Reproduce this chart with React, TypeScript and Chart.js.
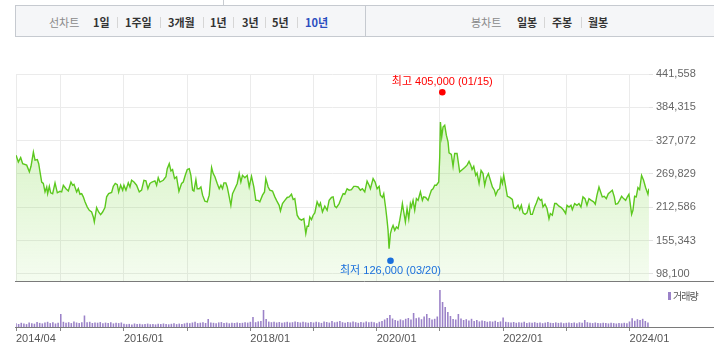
import React, { useEffect, useRef } from 'react';
import { Chart, registerables } from 'chart.js';

Chart.register(...registerables);

// ---- data (month index since 2014/01, fractional) ----
const priceMonths = [
  3.51, 3.95, 4.39, 4.77, 5.53, 6.04, 6.35, 6.8, 7.11, 7.55, 7.81, 8.06, 8.38, 8.69, 9.01, 9.33, 9.51, 9.83, 10.08, 10.46,
  10.91, 11.35, 11.85, 12.17, 12.49, 12.99, 13.44, 13.94, 14.26, 14.51, 15.02, 15.33, 15.65, 15.97, 16.28, 16.6, 17.04, 17.42, 17.86, 18.18,
  18.37, 18.81, 19.19, 19.57, 19.95, 20.39, 20.71, 21.09, 21.66, 21.98, 22.35, 22.73, 22.99, 23.37, 23.75, 24.0, 24.38, 24.82, 25.14, 25.45,
  25.9, 26.4, 26.91, 27.35, 27.79, 28.17, 28.55, 28.93, 29.31, 29.88, 30.2, 30.51, 30.83, 31.46, 31.97, 32.22, 32.6, 32.92, 33.23, 33.61,
  33.99, 34.44, 34.94, 35.26, 35.64, 36.02, 36.4, 36.71, 37.03, 37.28, 37.66, 37.91, 38.29, 38.61, 38.93, 39.37, 39.81, 40.19, 40.64, 40.95,
  41.27, 41.71, 42.09, 42.41, 42.72, 42.98, 43.35, 43.61, 43.99, 44.3, 44.62, 45.06, 45.51, 45.88, 46.2, 46.51, 46.96, 47.4, 47.78, 48.22,
  48.66, 49.04, 49.49, 49.8, 50.31, 50.69, 50.94, 51.38, 51.7, 52.21, 52.65, 52.97, 53.47, 53.72, 54.1, 54.55, 54.99, 55.37, 55.81, 56.13,
  56.44, 56.89, 57.27, 57.71, 58.15, 58.53, 58.78, 59.04, 59.29, 59.61, 59.92, 60.24, 60.68, 61.06, 61.31, 61.69, 62.14, 62.58, 62.96, 63.4,
  63.72, 64.03, 64.35, 64.86, 65.3, 65.62, 65.93, 66.37, 66.75, 67.2, 67.64, 68.02, 68.46, 68.9, 69.28, 69.73, 70.17, 70.55, 70.8, 71.31,
  71.69, 72.07, 72.45, 72.7, 73.08, 73.33, 73.71, 73.96, 74.15, 74.34, 74.6, 74.85, 75.1, 75.42, 75.74, 76.05, 76.37, 76.69, 76.87, 77.13,
  77.44, 77.76, 78.08, 78.39, 78.58, 78.9, 79.21, 79.53, 79.85, 80.29, 80.67, 80.92, 81.3, 81.74, 82.06, 82.38, 82.69, 83.01, 83.33, 83.77,
  83.96, 84.09, 84.34, 84.59, 84.91, 85.22, 85.54, 85.73, 86.17, 86.49, 86.8, 87.25, 87.75, 88.27, 88.71, 89.15, 89.53, 89.85, 90.1, 90.42,
  90.8, 91.05, 91.43, 91.81, 92.19, 92.5, 92.82, 93.2, 93.58, 93.96, 94.34, 94.59, 94.97, 95.35, 95.6, 95.86, 96.11, 96.49, 96.8, 97.25,
  97.75, 98.01, 98.39, 98.83, 99.15, 99.46, 99.78, 100.16, 100.54, 100.92, 101.23, 101.55, 101.99, 102.31, 102.69, 103.07, 103.32, 103.57, 103.95, 104.33,
  104.71, 104.96, 105.34, 105.79, 106.1, 106.61, 107.05, 107.49, 107.87, 108.13, 108.51, 108.89, 109.14, 109.58, 110.02, 110.4, 110.78, 111.16, 111.54, 111.92,
  112.3, 112.74, 113.19, 113.5, 113.82, 114.2, 114.45, 114.83, 115.21, 115.59, 115.97, 116.35, 116.73, 117.11, 117.36, 117.74, 118.12, 118.5, 118.88, 119.26,
  119.64, 119.89, 120.14, 120.4, 120.65, 120.97, 121.28, 121.6, 121.92, 122.29, 122.67, 123.05, 123.5, 123.69,
];

const priceValues = [
  302000, 290500, 298000, 287500, 285000, 273500, 283000, 307500, 293500, 294500, 287500, 273500, 256000, 253500, 239000, 247500, 236000, 248500, 237500, 236000,
  254500, 237500, 240000, 239000, 250500, 244500, 240500, 256000, 250500, 252000, 239000, 244500, 235000, 236000, 230500, 222000, 213000, 207500, 204500, 196000,
  187500, 212000, 204500, 200000, 204500, 212000, 230500, 236000, 238000, 248500, 253500, 251500, 239000, 250500, 242000, 250500, 242000, 254500, 247500, 259000,
  256000, 250500, 239000, 242000, 259000, 258000, 244500, 253500, 256000, 258000, 250500, 263500, 256000, 259000, 265000, 279000, 287500, 275000, 277500, 262000,
  265000, 240000, 253500, 256000, 267500, 277500, 279000, 267500, 242000, 240500, 260000, 244500, 244500, 247500, 233500, 223000, 222000, 233500, 281000, 270500,
  265000, 253500, 244500, 250500, 244500, 254500, 254500, 247500, 230500, 216000, 236000, 244500, 253500, 270500, 256000, 267500, 263500, 267500, 247500, 266000,
  247500, 224500, 224500, 222000, 233500, 239000, 262000, 247500, 242000, 240500, 230500, 224500, 216000, 206500, 219000, 224500, 229500, 230500, 235000, 226000,
  227500, 199000, 193000, 190500, 193000, 167500, 180000, 180000, 196000, 191500, 199000, 203000, 222000, 214500, 220000, 204500, 214500, 207500, 224500, 229500,
  230500, 214500, 212000, 219000, 229500, 236000, 235000, 244500, 242000, 243000, 248500, 248500, 247500, 242000, 244500, 239000, 257500, 250500, 244500, 262000,
  256000, 244500, 248500, 233500, 229500, 236000, 210500, 190500, 173000, 141500, 167500, 176000, 181500, 173000, 179000, 176000, 190500, 207500, 219000, 204500,
  187500, 210500, 193000, 219000, 213000, 224500, 207500, 227500, 224500, 239000, 224500, 230500, 229500, 224500, 233500, 242000, 244500, 250500, 250500, 256000,
  299000, 359000, 333500, 350500, 353500, 336500, 325000, 306000, 303500, 283000, 305000, 305000, 273500, 277500, 281000, 285000, 291500, 285000, 277500, 283000,
  267500, 271500, 253500, 276000, 270500, 250500, 263500, 270500, 259000, 247500, 242000, 233500, 242000, 244500, 262000, 253500, 267500, 247500, 231500, 229500,
  226000, 212000, 210500, 216000, 208500, 216000, 203000, 200500, 203000, 216000, 200500, 200500, 213000, 220000, 229500, 224500, 226000, 213000, 218000, 210500,
  193000, 202000, 199000, 219000, 219000, 214500, 212000, 207500, 202000, 216000, 213000, 216000, 208500, 219000, 216000, 219000, 213000, 230500, 227500, 216000,
  227500, 224500, 222000, 218000, 233500, 247500, 240500, 230500, 231500, 227500, 236000, 239000, 242000, 230500, 218000, 219000, 224500, 231500, 227500, 224500,
  231500, 235000, 219000, 200500, 207500, 231500, 230500, 246500, 243000, 267500, 259000, 246500, 235000, 244500,
];

// half-month volume bars starting 2014/04 (thousand shares)
const volumes = [
  380, 300, 420, 350, 290, 460, 380, 330, 500, 410, 360, 440, 520, 390, 470, 350, 420,
  1300, 520, 430, 480, 390, 560, 450, 400, 470, 1150, 480, 520, 400, 460, 430, 490, 380, 440, 410, 470, 360, 420, 390, 450,
  330, 280, 310, 260, 350, 290, 320, 270, 300, 340, 280, 310, 260, 330, 290, 350, 300, 270, 320, 380, 290, 340, 310, 360,
  420, 380, 450, 520, 390, 430, 470, 400, 800, 450, 420, 380, 460, 490, 410, 440, 370, 430, 400, 460, 390, 420, 480, 440,
  520, 1000, 480, 560, 610, 1700, 800, 540, 480, 520, 450, 500, 430, 470, 520, 440, 480, 560, 500, 450, 520, 470, 430, 490,
  450, 520, 480, 410, 560, 500, 440, 590, 470, 520, 610, 480, 430, 500, 460, 540, 480, 420, 500, 450, 560, 480, 520, 470,
  380, 520, 600, 750, 900, 1200, 850, 700, 620, 760, 680, 820, 900, 750, 1400, 880, 950, 780, 1050, 1300, 900, 760, 820, 1050,
  3700, 2500, 2000, 1500, 1100, 800, 750, 1300, 850, 700, 780, 650, 820, 600, 700, 560, 650, 600, 520, 580, 540, 620, 500, 560,
  950, 520, 480, 450, 500, 420, 480, 440, 520, 400, 460, 430, 480, 410, 450, 380, 440, 500, 420, 390, 460, 410, 440, 380,
  420, 460, 400, 450, 380, 470, 430, 700, 480, 420, 390, 450, 410, 380, 430, 400, 360, 420, 390, 350, 400, 370, 420, 380,
  550, 880, 620, 780, 700, 820, 600, 450,
];
const volumeMonths = volumes.map((_, i) => 3.5 + i * 0.5);

const xTicks = [3.5, 12, 24, 36, 48, 60, 72, 84, 96, 108, 120];
const xTickLabels = ['2014/04', '', '2016/01', '', '2018/01', '', '2020/01', '', '2022/01', '', '2024/01'];
const yTicks = [98100, 155343, 212586, 269829, 327072, 384315, 441558];
const xMin = 3.5;
const xMax = 123.7;

const highPoint = { month: 84.45, value: 405000, label: '최고 405,000 (01/15)', color: '#ff0000' };
const lowPoint = { month: 74.61, value: 126000, label: '최저 126,000 (03/20)', color: '#1a6fdc' };

const periodItems = ['1일', '1주일', '3개월', '1년', '3년', '5년', '10년'];
const candleItems = ['일봉', '주봉', '월봉'];

const FONT = "'Liberation Sans', 'Noto Sans CJK KR', sans-serif";
Chart.defaults.font.family = FONT;

const setXTicks = (s: any) => {
  s.ticks = xTicks.map((v) => ({ value: v }));
};

const priceDecor = {
  id: 'priceDecor',
  afterDatasetsDraw(chart: any) {
    const { ctx, scales } = chart;
    const x = scales.x;
    const y = scales.y;
    const draw = (p: any, dir: number) => {
      const px = x.getPixelForValue(p.month);
      const py = y.getPixelForValue(p.value) + dir * 3;
      ctx.save();
      ctx.fillStyle = p.color;
      ctx.beginPath();
      ctx.arc(px, py, 3.3, 0, Math.PI * 2);
      ctx.fill();
      ctx.font = '11px ' + FONT;
      ctx.textAlign = 'center';
      ctx.textBaseline = 'middle';
      ctx.fillText(p.label, px, py + dir * 10.7);
      ctx.restore();
    };
    draw(highPoint, -1);
    draw(lowPoint, 1);
  },
  afterDraw(chart: any) {
    const { ctx, chartArea, width } = chart;
    const yy = Math.round(chartArea.bottom) + 0.5;
    ctx.save();
    ctx.strokeStyle = '#7a7a7a';
    ctx.lineWidth = 1;
    ctx.beginPath();
    ctx.moveTo(chartArea.left - 1, yy);
    ctx.lineTo(width, yy);
    ctx.stroke();
    ctx.restore();
  },
};

const volumeDecor = {
  id: 'volumeDecor',
  afterDraw(chart: any) {
    const { ctx, chartArea, width } = chart;
    const yy = Math.round(chartArea.bottom) + 0.5;
    ctx.save();
    ctx.strokeStyle = '#7a7a7a';
    ctx.lineWidth = 1;
    ctx.beginPath();
    ctx.moveTo(chartArea.left - 1, yy);
    ctx.lineTo(width, yy);
    ctx.stroke();
    ctx.restore();
  },
};

function PriceChart() {
  const ref = useRef<HTMLCanvasElement>(null);
  useEffect(() => {
    if (!ref.current) return;
    const chart = new Chart(ref.current, {
      type: 'line',
      data: {
        datasets: [
          {
            data: priceMonths.map((m, i) => ({ x: m, y: priceValues[i] })),
            borderColor: '#5cc81e',
            borderWidth: 1.4,
            pointRadius: 0,
            tension: 0,
            fill: 'start',
            backgroundColor: (c: any) => {
              const { chart: ch } = c;
              const area = ch.chartArea;
              if (!area) return 'rgba(120,215,60,0.2)';
              const g = ch.ctx.createLinearGradient(0, area.top, 0, area.bottom);
              g.addColorStop(0, 'rgba(120,215,60,0.36)');
              g.addColorStop(1, 'rgba(120,215,60,0.08)');
              return g;
            },
          },
        ],
      },
      options: {
        animation: false,
        responsive: false,
        maintainAspectRatio: false,
        layout: { padding: { left: 16, right: 0, top: 29, bottom: 14 } },
        plugins: { legend: { display: false }, tooltip: { enabled: false } },
        scales: {
          x: {
            type: 'linear',
            min: xMin,
            max: xMax,
            afterBuildTicks: setXTicks,
            ticks: { display: false },
            grid: { color: '#ebebeb', drawTicks: false },
            border: { display: false },
          },
          y: {
            position: 'right',
            min: 86000,
            max: 441558,
            afterBuildTicks: (s: any) => {
              s.ticks = yTicks.map((v) => ({ value: v }));
            },
            afterFit: (s: any) => {
              s.width = 65;
            },
            ticks: {
              color: '#666',
              font: { size: 11 },
              padding: 3,
              callback: (v: any) => Number(v).toLocaleString('en-US'),
            },
            grid: { color: '#ebebeb', tickLength: 4, tickColor: '#e2e2e2' },
            border: { display: false },
          },
        },
      },
      plugins: [priceDecor],
    } as any);
    return () => chart.destroy();
  }, []);
  return (
    <canvas
      ref={ref}
      width={714}
      height={250}
      style={{ position: 'absolute', left: 0, top: 45, width: 714, height: 250 }}
    />
  );
}

function VolumeChart() {
  const ref = useRef<HTMLCanvasElement>(null);
  useEffect(() => {
    if (!ref.current) return;
    const chart = new Chart(ref.current, {
      type: 'bar',
      data: {
        datasets: [
          {
            data: volumeMonths.map((m, i) => ({ x: m, y: volumes[i] })),
            backgroundColor: '#9b82c8',
            barPercentage: 0.6,
            categoryPercentage: 1,
          },
        ],
      },
      options: {
        animation: false,
        responsive: false,
        maintainAspectRatio: false,
        layout: { padding: { left: 16, right: 65, top: 4, bottom: 15 } },
        plugins: { legend: { display: false }, tooltip: { enabled: false } },
        scales: {
          x: {
            type: 'linear',
            offset: false,
            min: xMin,
            max: xMax,
            afterBuildTicks: setXTicks,
            afterFit: (s: any) => {
              s.height = 18;
            },
            ticks: {
              align: 'start',
              autoSkip: false,
              maxRotation: 0,
              color: '#555',
              font: { size: 11 },
              padding: 1,
              callback: (v: any) => xTickLabels[xTicks.indexOf(Number(v))] ?? '',
            },
            grid: { drawOnChartArea: false, drawTicks: true, tickLength: 4, color: '#888', offset: false },
            border: { display: false },
          },
          y: { display: false, min: 0, max: 4000 },
        },
      },
      plugins: [volumeDecor],
    } as any);
    return () => chart.destroy();
  }, []);
  return (
    <canvas
      ref={ref}
      width={714}
      height={77}
      style={{ position: 'absolute', left: 0, top: 283, width: 714, height: 77 }}
    />
  );
}

const itemStyle = (left: number, color: string, bold: boolean): React.CSSProperties => ({
  position: 'absolute',
  left,
  top: 15,
  lineHeight: '15px',
  fontSize: 11,
  fontWeight: bold ? 700 : 400,
  color,
  whiteSpace: 'nowrap',
});

const sepStyle = (left: number): React.CSSProperties => ({
  position: 'absolute',
  left,
  top: 17,
  width: 1,
  height: 11,
  background: '#d6d6d6',
});

export default function App() {
  const periodLefts = [93, 125, 168, 210, 242, 272, 305];
  const periodSeps = [117, 160, 203, 233, 265, 297];
  const candleLefts = [517, 552, 588];
  const candleSeps = [544, 581];
  return (
    <div
      style={{
        position: 'absolute',
        left: 0,
        top: 0,
        width: 714,
        height: 360,
        overflow: 'hidden',
        background: '#fff',
        fontFamily: "'Noto Sans CJK KR', sans-serif",
      }}
    >
      <div style={{ position: 'absolute', left: 223, top: 0, width: 1, height: 5, background: '#c8ccd1' }} />
      <div
        style={{
          position: 'absolute',
          left: 15,
          top: 5,
          width: 699,
          height: 30,
          background: '#f5f6f8',
          borderTop: '1px solid #c6cad0',
          borderBottom: '1px solid #c6cad0',
          borderLeft: '1px solid #c6cad0',
        }}
      />
      <div style={{ position: 'absolute', left: 365, top: 6, width: 1, height: 30, background: '#c6cad0' }} />
      <span style={itemStyle(49, '#8a8a8a', false)}>선차트</span>
      {periodItems.map((t, i) => (
        <span key={t} style={itemStyle(periodLefts[i], t === '10년' ? '#2c4fc0' : '#333', true)}>
          {t}
        </span>
      ))}
      {periodSeps.map((l) => (
        <div key={l} style={sepStyle(l)} />
      ))}
      <span style={itemStyle(471, '#8a8a8a', false)}>봉차트</span>
      {candleItems.map((t, i) => (
        <span key={t} style={itemStyle(candleLefts[i], '#333', true)}>
          {t}
        </span>
      ))}
      {candleSeps.map((l) => (
        <div key={l} style={sepStyle(l)} />
      ))}
      <PriceChart />
      <VolumeChart />
      <div style={{ position: 'absolute', left: 668, top: 292, width: 3, height: 8, background: '#9b82c8' }} />
      <span
        style={{
          position: 'absolute',
          left: 673,
          top: 289,
          lineHeight: '14px',
          fontSize: 10,
          letterSpacing: -1,
          color: '#555',
          whiteSpace: 'nowrap',
        }}
      >
        거래량
      </span>
    </div>
  );
}
